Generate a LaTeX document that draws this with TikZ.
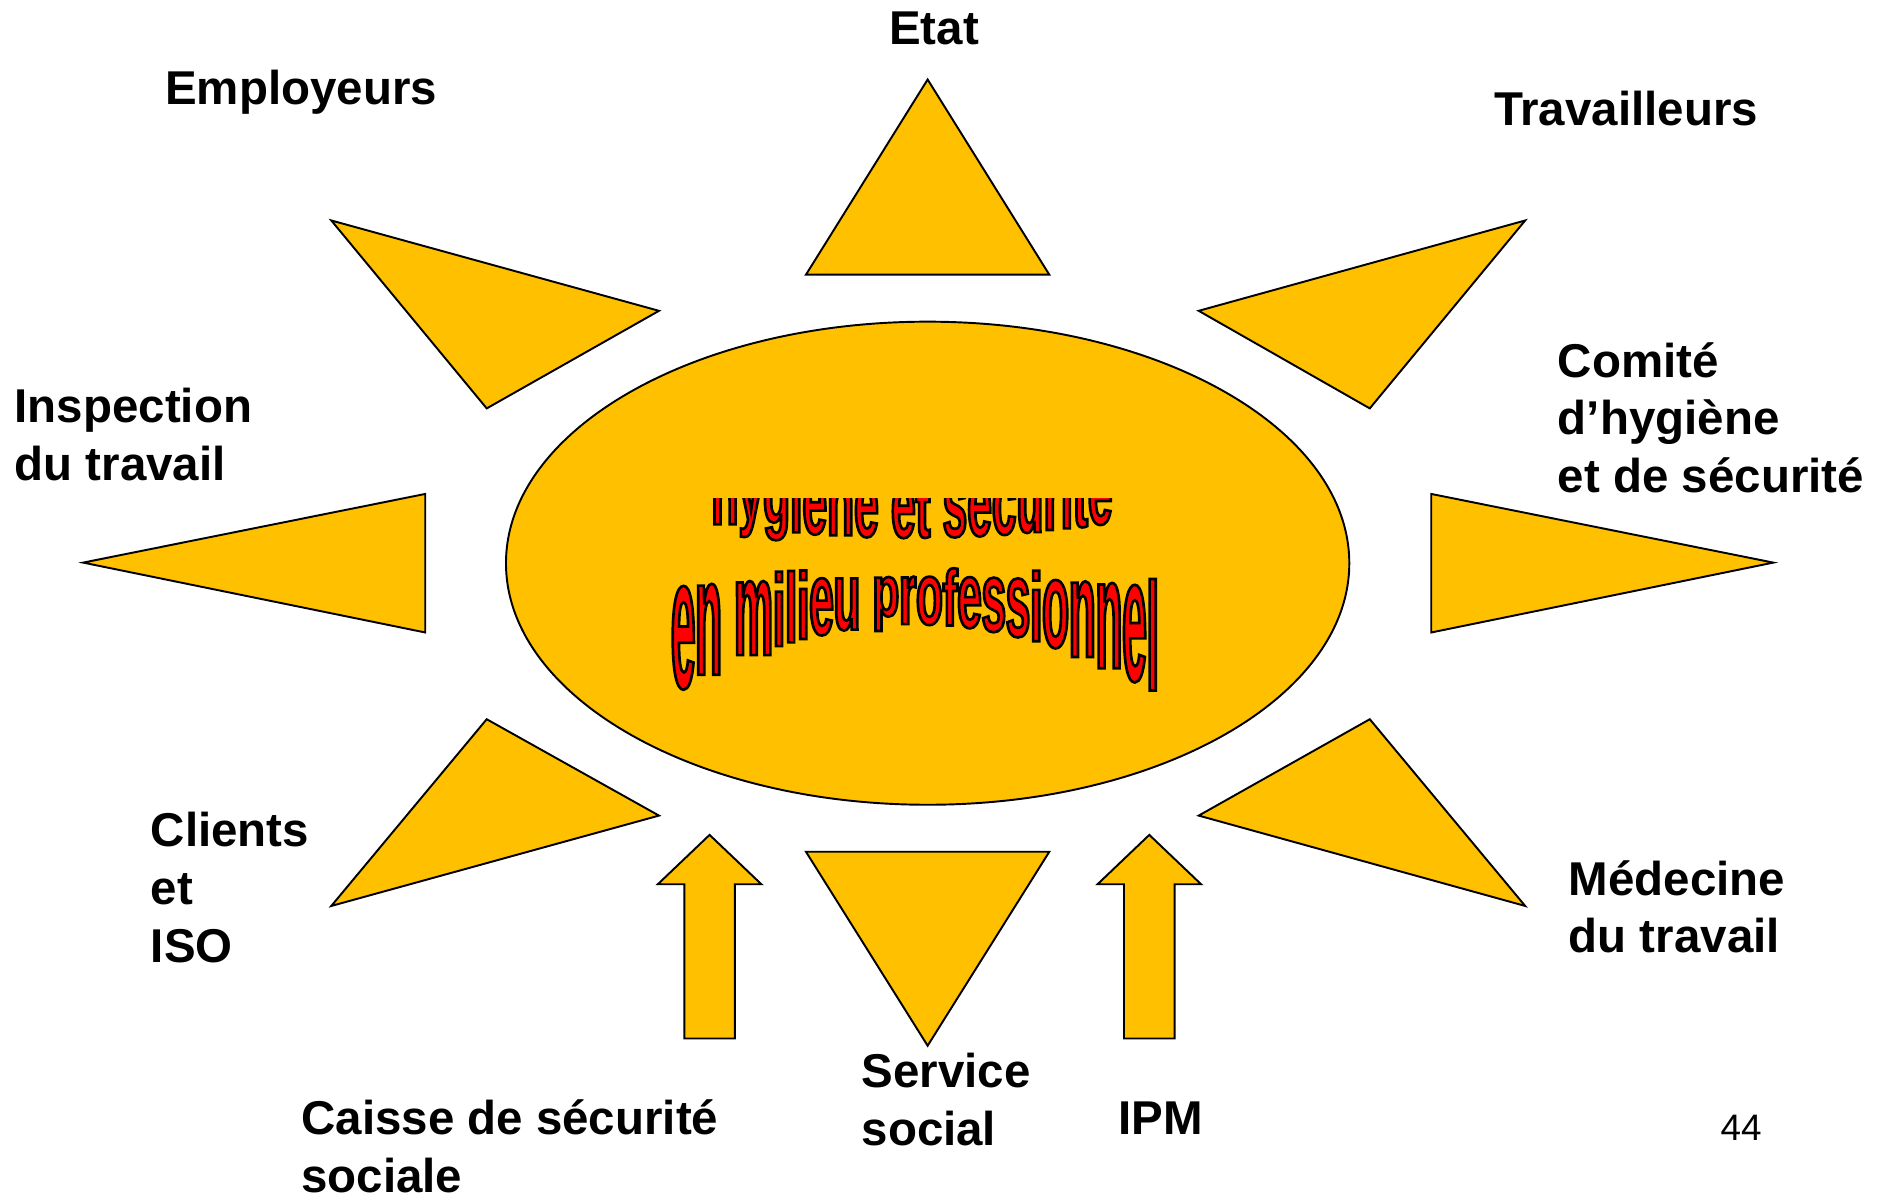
\documentclass[tikz,border=0pt]{standalone}
\usepackage{fontspec}
\setmainfont{Liberation Sans}
\usetikzlibrary{shapes.geometric}
\definecolor{sun}{RGB}{255,192,0}
\definecolor{wared}{RGB}{255,0,0}
% one WordArt glyph: #1 char, #2 font size, #3 horizontal stretch
\newcommand\waglyph[3]{{\fontspec[FakeStretch=#3]{Liberation Sans}\bfseries\fontsize{#2}{#2}\selectfont\color{wared}\special{pdf:literal direct 0 0 0 RG 2.2 w 2 Tr}#1\special{pdf:literal direct 0 Tr}}}
\tikzset{
  ray/.style={fill=sun, draw=black, line width=1.6pt, line join=miter},
  lbl/.style={font=\bfseries\fontsize{39.4}{48}\selectfont, inner sep=0pt, align=left, anchor=base west},
  wa/.style={inner sep=0pt, anchor=base},
}
\begin{document}
\begin{tikzpicture}[x=1pt, y=-1pt]
\useasboundingbox[fill=white] (0,0) rectangle (1568,998.5);

% central ellipse
\node (core) [ellipse, fill=sun, draw=black, line width=1.6pt, minimum width=700pt, minimum height=401pt, inner sep=0pt] at (770,467.5) {};

% rays
\draw[ray] (770,66) -- (871,228) -- (669,228) -- cycle;
\draw[ray] (669,707) -- (871,707) -- (770,868) -- cycle;
\draw[ray] (69,467) -- (353,410) -- (353,525) -- cycle;
\draw[ray] (1472,467) -- (1188,410) -- (1188,525) -- cycle;
\draw[ray] (275,183) -- (547,258) -- (404,339) -- cycle;
\draw[ray] (1266,183) -- (995,258) -- (1137,339) -- cycle;
\draw[ray] (404,597) -- (547,677) -- (275,752) -- cycle;
\draw[ray] (1137,597) -- (995,677) -- (1266,752) -- cycle;

% up arrows
\draw[ray] (589,693) -- (632,734) -- (610,734) -- (610,862) -- (568,862) -- (568,734) -- (546,734) -- cycle;
\draw[ray] (954,693) -- (997,734) -- (975,734) -- (975,862) -- (933,862) -- (933,734) -- (911,734) -- cycle;

% word art: top line (clipped)
\begin{scope}
\clip (500,414) rectangle (1000,470);
\foreach \c/\xc/\ty in {h/601.7/1, y/623.2/2, g/644.6/2, i/661.0/1, è/676.3/0, n/697.7/0, e/719.2/0, e/749.8/0, t/766.1/1, s/792.6/0, é/813.1/0, c/833.5/0, u/854.9/0, r/873.4/0, i/885.6/1, t/896.8/1, é/913.2/0}{
  \pgfmathsetmacro\u{(\xc-757)/167}
  \pgfmathsetmacro\b{446-12.5*\u*\u}
  \pgfmathsetmacro\xt{\b-42}
  \pgfmathsetmacro\ys{\ty==0 ? (\b-\xt)/(0.519*36.5) : (\ty==1 ? (\b-\xt+6)/(0.716*36.5) : (\b+8-\xt)/(0.729*36.5))}
  \pgfmathsetmacro\bb{\ty==2 ? \xt+\ys*0.519*36.5 : \b}
  \pgfmathsetmacro\fs{36.5*\ys}
  \pgfmathsetmacro\st{1/\ys}
  \node[wa] at (\xc,\bb) {\waglyph{\c}{\fs}{\st}};
}
\end{scope}

% word art: bottom line
\foreach \c/\xc/\ty in {e/567.1/0, n/588.2/0, m/625.5/0, i/646.6/1, l/656.7/1, i/666.8/1, e/681.9/0, u/703.0/0, p/735.3/2, r/753.4/0, o/771.5/0, f/788.6/1, e/804.7/0, s/824.9/0, s/845.0/0, i/860.1/1, o/876.2/0, n/898.4/0, n/920.5/0, e/941.7/0, l/956.8/1}{
  \pgfmathsetmacro\u{(\xc-760)/200}
  \pgfmathsetmacro\b{518+57*\u*\u}
  \pgfmathsetmacro\xt{480+10*\u*\u}
  \pgfmathsetmacro\ys{\ty==0 ? (\b-\xt)/(0.519*36.5) : (\ty==1 ? (\b-\xt+8)/(0.716*36.5) : (\b+5-\xt)/(0.729*36.5))}
  \pgfmathsetmacro\bb{\ty==2 ? \xt+\ys*0.519*36.5 : \b}
  \pgfmathsetmacro\fs{36.5*\ys}
  \pgfmathsetmacro\st{1/\ys}
  \node[wa] at (\xc,\bb) {\waglyph{\c}{\fs}{\st}};
}

% labels
\node[lbl] (etat) at (738,37) {Etat};
\node[lbl] (empl) at (137,87) {Employeurs};
\node[lbl] (trav) at (1240,104) {Travailleurs};
\node[lbl] (chs) at (1293,409) {Comité\\d’hygiène\\et de sécurité};
\node[lbl] (insp) at (12,399) {Inspection\\du travail};
\node[lbl] (cli) at (125,799) {Clients\\et\\ISO};
\node[lbl] (med) at (1302,791) {Médecine\\du travail};
\node[lbl] (caisse) at (250,990) {Caisse de sécurité\\sociale};
\node[lbl] (serv) at (715,951) {Service\\social};
\node[lbl] (ipm) at (928,942) {IPM};
\node[inner sep=0pt, anchor=base west, font=\fontsize{30.6}{36}\selectfont] (page) at (1428,947) {44};
\end{tikzpicture}
\end{document}
